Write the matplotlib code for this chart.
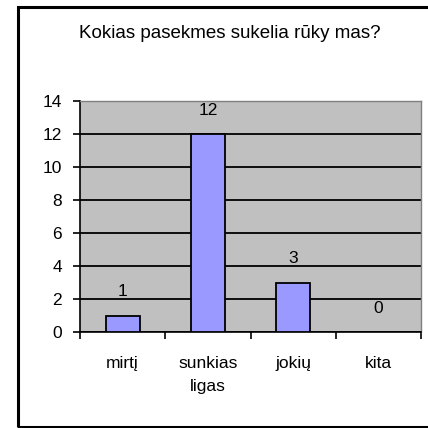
import matplotlib
matplotlib.use("Agg")
import matplotlib.pyplot as plt
from matplotlib.patches import Rectangle
import numpy as np

plt.rcParams['font.family'] = ['Liberation Sans', 'DejaVu Sans']

categories = ['mirtį', 'sunkias\nligas', 'jokių', 'kita']
values = [1, 12, 3, 0]
title = 'Kokias pasekmes sukelia rūky mas?'

W = 428
fig = plt.figure(figsize=(W / 100, W / 100), dpi=100)

# outer chart frame (right side runs off the picture)
fig.patches.append(Rectangle((18 / W, 1 / W), 1.0, 420 / W, transform=fig.transFigure,
                             fill=False, edgecolor='black', linewidth=2.2))

ax = fig.add_axes([80 / W, (W - 332) / W, 341 / W, 231 / W])
ax.set_facecolor('#C0C0C0')

x = np.arange(len(categories))
ax.bar(x, values, width=0.4, color='#9999FF', edgecolor='black', linewidth=1.3, zorder=3)

for xi, v in zip(x, values):
    ax.annotate(str(v), (xi, v), xytext=(0, 17), textcoords='offset points',
                ha='center', va='center', fontsize=12.5)

ax.set_xlim(-0.5, len(categories) - 0.5)
ax.set_ylim(0, 14)
ax.set_yticks(range(0, 15, 2))
ax.yaxis.grid(True, color='black', linewidth=1.3, zorder=1)
ax.set_axisbelow(True)

ax.set_xticks(x)
ax.set_xticklabels(categories, fontsize=12.5, linespacing=1.7)
ax.set_xticks(np.arange(-0.5, len(categories)), minor=True)
ax.tick_params(axis='x', which='major', length=0, pad=17)
ax.tick_params(axis='x', which='minor', length=5, width=1.2, direction='out')
ax.tick_params(axis='y', length=5, width=1.2, direction='out', pad=8, labelsize=12.5)

for s in ['top', 'right']:
    ax.spines[s].set_color('#808080')
    ax.spines[s].set_linewidth(1)
for s in ['left', 'bottom']:
    ax.spines[s].set_color('black')
    ax.spines[s].set_linewidth(1.2)

fig.text(230 / W, (W - 34) / W, title, ha='center', va='center', fontsize=13.5)

fig.savefig('out.png', dpi=100)
